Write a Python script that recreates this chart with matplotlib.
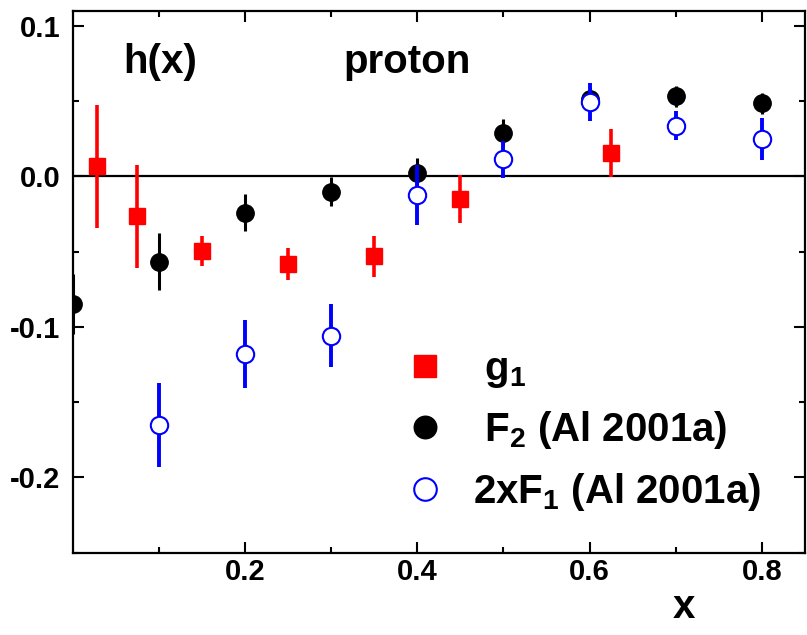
import matplotlib
matplotlib.use("Agg")
import matplotlib.pyplot as plt

plt.rcParams['font.family'] = ['Liberation Sans', 'DejaVu Sans']
plt.rcParams['font.weight'] = 'bold'
plt.rcParams['axes.unicode_minus'] = False
plt.rcParams['mathtext.fontset'] = 'custom'
plt.rcParams['mathtext.rm'] = 'Liberation Sans:bold'
plt.rcParams['mathtext.it'] = 'Liberation Sans:bold'
plt.rcParams['mathtext.bf'] = 'Liberation Sans:bold'
plt.rcParams['mathtext.default'] = 'regular'

# g1 (red squares)
g1_x = [0.028, 0.075, 0.15, 0.25, 0.35, 0.45, 0.625]
g1_y = [0.0066, -0.0266, -0.0498, -0.0582, -0.0532, -0.015, 0.0157]
g1_err = [0.041, 0.034, 0.010, 0.0106, 0.0134, 0.016, 0.016]

# F2 (black filled circles)
f2_x = [0.0, 0.1, 0.2, 0.3, 0.4, 0.5, 0.6, 0.7, 0.8]
f2_y = [-0.0848, -0.0567, -0.0241, -0.0102, 0.002, 0.029, 0.0512, 0.0532, 0.0485]
f2_err = [0.02, 0.019, 0.0125, 0.0097, 0.0105, 0.009, 0.008, 0.007, 0.007]

# 2xF1 (blue open circles)
f1_x = [0.1, 0.2, 0.3, 0.4, 0.5, 0.6, 0.7, 0.8]
f1_y = [-0.165, -0.118, -0.1058, -0.0122, 0.0113, 0.0492, 0.0337, 0.0248]
f1_err = [0.028, 0.0228, 0.021, 0.020, 0.0125, 0.0127, 0.0094, 0.0142]

fig = plt.figure(figsize=(8.07, 6.35), dpi=100)
ax = fig.add_axes([0.0901, 0.1296, 0.9074, 0.8535])

ax.axhline(0, color='black', lw=1.6, zorder=1)

red = ax.errorbar(g1_x, g1_y, yerr=g1_err, fmt='s', color='#ff0000', ms=12,
                  elinewidth=2.6, capsize=0, zorder=2)
blk = ax.errorbar(f2_x, f2_y, yerr=f2_err, fmt='o', color='black', ms=12.5,
                  elinewidth=2.2, capsize=0, zorder=3)
blu = ax.errorbar(f1_x, f1_y, yerr=f1_err, fmt='o', color='#0000ff', mfc='white',
                  ms=12.5, mew=1.5, elinewidth=2.8, capsize=0, zorder=4)

ax.set_xlim(0, 0.85)
ax.set_ylim(-0.25, 0.11)

ax.set_xticks([0.2, 0.4, 0.6, 0.8])
ax.set_xticks([0.1, 0.3, 0.5, 0.7], minor=True)
ax.set_yticks([-0.2, -0.1, 0.0, 0.1])
ax.set_yticks([-0.25, -0.15, -0.05, 0.05], minor=True)
ax.set_yticklabels(['-0.2', '-0.1', '0.0', '0.1'])
ax.set_xticklabels(['0.2', '0.4', '0.6', '0.8'])

ax.tick_params(which='both', direction='in', top=True, right=True, width=1.5,
               labelsize=21)
ax.tick_params(which='major', length=8)
ax.tick_params(which='minor', length=4.5)
ax.tick_params(axis='x', pad=4)
ax.tick_params(axis='y', pad=9)
for s in ax.spines.values():
    s.set_linewidth(1.6)

ax.set_xlabel('x', fontsize=29, fontweight='bold', va='baseline')
ax.xaxis.set_label_coords(0.835, -0.1205)

ax.text(0.0687, 0.885, 'h(x)', transform=ax.transAxes, fontsize=29,
        fontweight='bold', va='baseline', ha='left')
ax.text(0.369, 0.885, 'proton', transform=ax.transAxes, fontsize=29,
        fontweight='bold', va='baseline', ha='left')

labels = [' $g_1$', ' $F_2$ (Al 2001a)', '2x$F_1$ (Al 2001a)']
ax.legend([red.lines[0], blk.lines[0], blu.lines[0]], labels,
          loc='upper left', bbox_to_anchor=(0.453, 0.374), frameon=False,
          prop={'weight': 'bold', 'size': 29}, markerscale=1.3,
          handlelength=1.0, handletextpad=0.7, labelspacing=0.48,
          borderpad=0, borderaxespad=0)

fig.savefig('out.png', dpi=100)
